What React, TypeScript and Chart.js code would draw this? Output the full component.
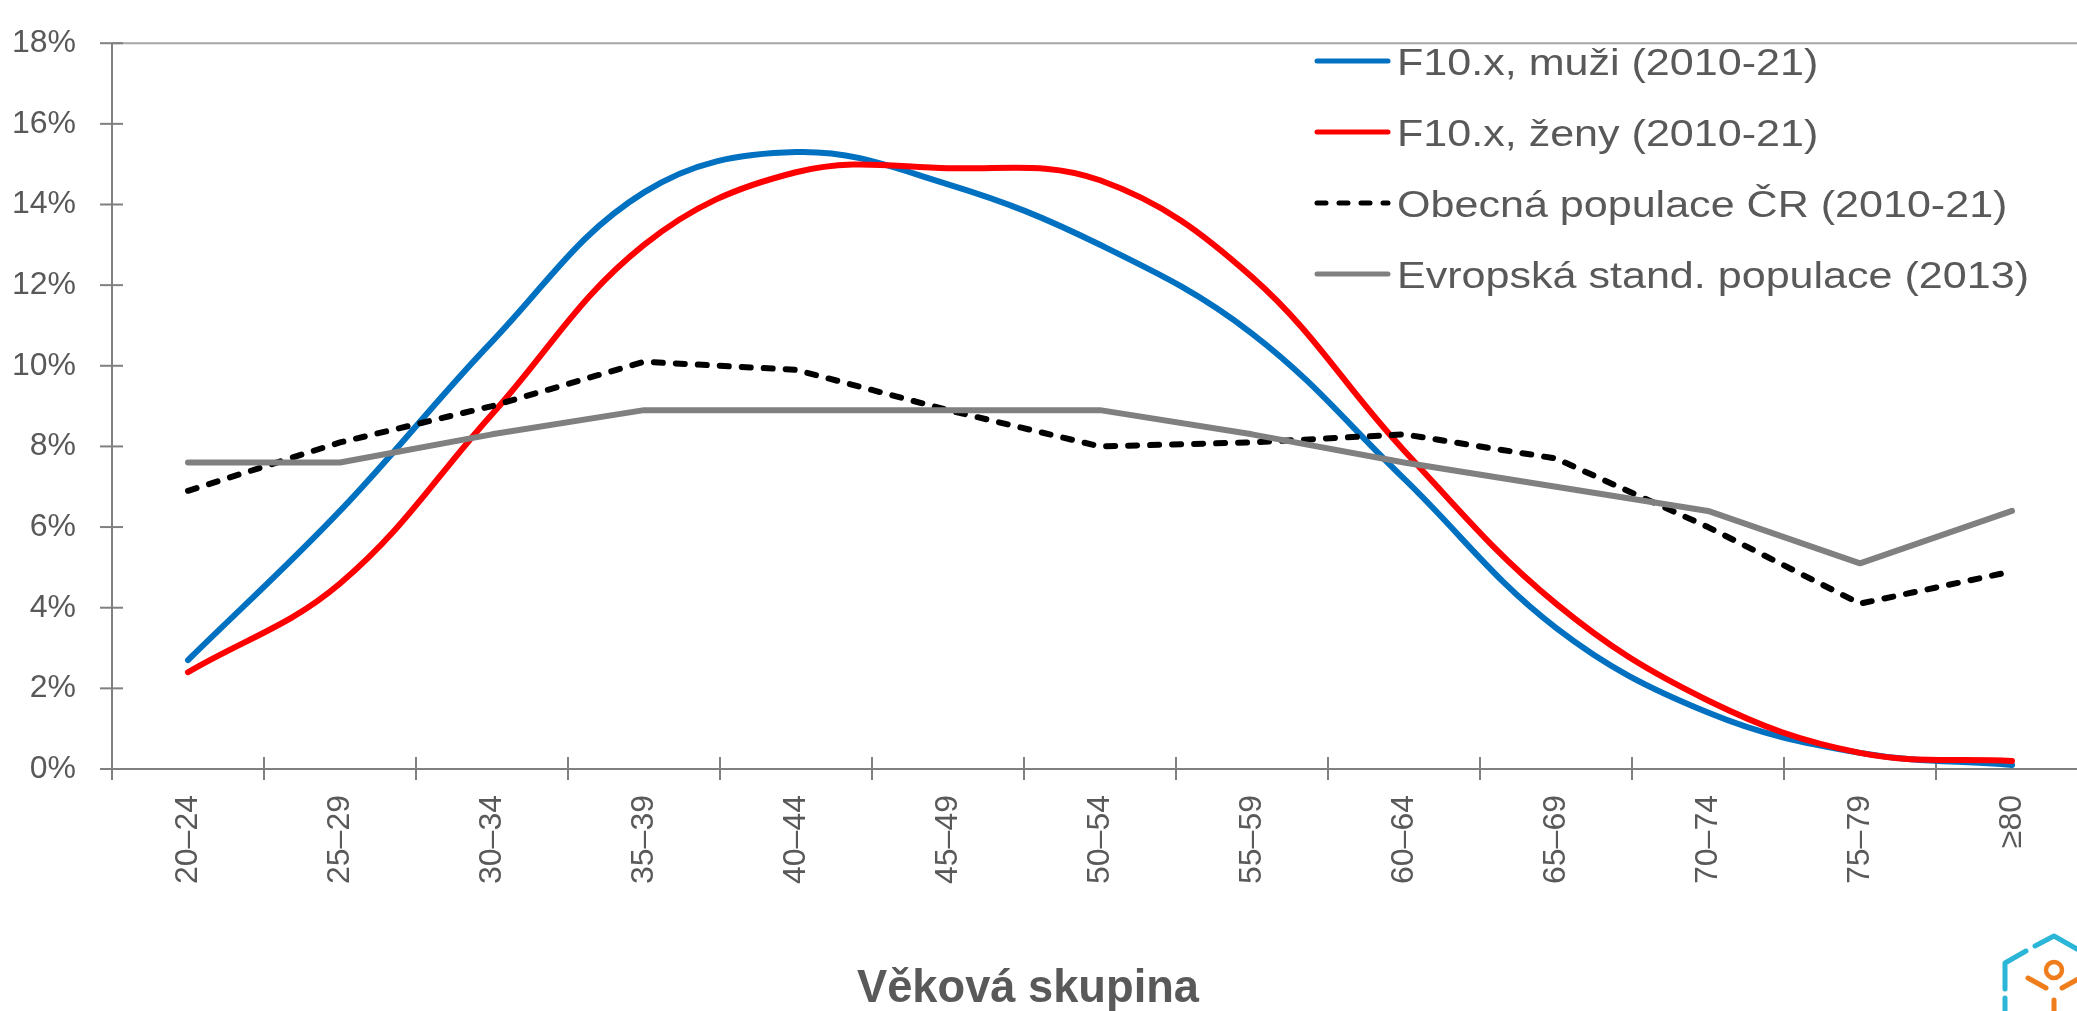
import React, { useEffect, useRef } from "react";
import { Chart, registerables } from "chart.js";

Chart.register(...registerables);

const categories = ["20–24", "25–29", "30–34", "35–39", "40–44", "45–49", "50–54", "55–59", "60–64", "65–69", "70–74", "75–79", "≥80"];
const menValues = [2.7, 6.4, 10.6, 14.3, 15.3, 14.5, 13.0, 10.8, 7.2, 3.5, 1.4, 0.4, 0.1];
const womenValues = [2.4, 4.6, 8.8, 13.0, 14.8, 14.9, 14.6, 12.2, 7.9, 4.1, 1.7, 0.4, 0.2];
const czPopulationValues = [6.9, 8.1, 9.0, 10.1, 9.9, 8.9, 8.0, 8.1, 8.3, 7.7, 6.0, 4.1, 4.9];
const euStandardValues = [7.6, 7.6, 8.3, 8.9, 8.9, 8.9, 8.9, 8.3, 7.6, 7.0, 6.4, 5.1, 6.4];
const seriesLabels = ["F10.x, muži (2010-21)", "F10.x, ženy (2010-21)", "Obecná populace ČR (2010-21)", "Evropská stand. populace (2013)"];
const yMin = 0;
const yMax = 18;
const yStep = 2;
const xTitle = "Věková skupina";

const CANVAS_W = 2100;
const CANVAS_H = 1011;
const TEXT = "#595959";
const AXIS = "#808080";
const LINE_W = 6;

const decorPlugin = {
  id: "decor",
  beforeDatasetsDraw(chart: any) {
    const { ctx, chartArea, scales } = chart;
    const x = scales.x;
    const y = scales.y;
    const top = y.getPixelForValue(yMax);
    const bottom = y.getPixelForValue(yMin);
    ctx.save();
    ctx.lineWidth = 2;
    ctx.strokeStyle = "#a6a6a6";
    ctx.beginPath();
    ctx.moveTo(chartArea.left, top);
    ctx.lineTo(chartArea.right, top);
    ctx.stroke();
    ctx.strokeStyle = AXIS;
    ctx.beginPath();
    ctx.moveTo(chartArea.left, top);
    ctx.lineTo(chartArea.left, bottom + 11);
    ctx.stroke();
    for (let v = yMin; v <= yMax; v += yStep) {
      const py = y.getPixelForValue(v);
      ctx.beginPath();
      ctx.moveTo(chartArea.left - 12, py);
      ctx.lineTo(chartArea.left + 11, py);
      ctx.stroke();
    }
    ctx.beginPath();
    ctx.moveTo(chartArea.left - 12, bottom);
    ctx.lineTo(chartArea.right, bottom);
    ctx.stroke();
    for (let i = 1; i < categories.length; i++) {
      const px = Math.round((x.getPixelForValue(i - 1) + x.getPixelForValue(i)) / 2);
      ctx.beginPath();
      ctx.moveTo(px, bottom - 12);
      ctx.lineTo(px, bottom + 11);
      ctx.stroke();
    }
    ctx.restore();
  },
  afterDraw(chart: any) {
    const { ctx } = chart;
    const datasets = chart.data.datasets;
    ctx.save();
    const lx0 = 1317;
    const lx1 = 1388;
    const tx = 1397;
    const rowY0 = 61;
    const rowStep = 71;
    ctx.font = "37px 'Liberation Sans', Arial, sans-serif";
    const widest = ctx.measureText(seriesLabels[3]).width;
    const sx = 632 / widest;
    datasets.forEach((ds: any, i: number) => {
      const ry = rowY0 + i * rowStep;
      ctx.save();
      ctx.strokeStyle = ds.borderColor;
      ctx.lineWidth = 5;
      ctx.lineCap = "round";
      if (ds.borderDash && ds.borderDash.length) ctx.setLineDash(ds.borderDash);
      ctx.beginPath();
      ctx.moveTo(lx0, ry);
      ctx.lineTo(lx1, ry);
      ctx.stroke();
      ctx.restore();
      ctx.save();
      ctx.fillStyle = TEXT;
      ctx.textBaseline = "alphabetic";
      ctx.textAlign = "left";
      ctx.translate(tx, ry + 14);
      ctx.scale(sx, 1);
      ctx.fillText(ds.label, 0, 0);
      ctx.restore();
    });
    ctx.fillStyle = TEXT;
    ctx.font = "bold 46px 'Liberation Sans', Arial, sans-serif";
    ctx.textAlign = "center";
    ctx.textBaseline = "alphabetic";
    ctx.fillText(xTitle, 1028, 1002, 342);
    ctx.lineCap = "round";
    ctx.lineJoin = "round";
    ctx.lineWidth = 5;
    ctx.strokeStyle = "#2bb5d6";
    ctx.beginPath();
    ctx.moveTo(2005, 989);
    ctx.lineTo(2005, 963);
    ctx.lineTo(2026, 951);
    ctx.stroke();
    ctx.beginPath();
    ctx.moveTo(2035, 946);
    ctx.lineTo(2054, 936);
    ctx.lineTo(2100, 962);
    ctx.stroke();
    ctx.beginPath();
    ctx.moveTo(2005, 998);
    ctx.lineTo(2005, 1020);
    ctx.stroke();
    ctx.strokeStyle = "#f07d1b";
    ctx.lineWidth = 4.5;
    ctx.beginPath();
    ctx.arc(2054, 970, 8, 0, Math.PI * 2);
    ctx.stroke();
    ctx.lineWidth = 5;
    ctx.beginPath();
    ctx.moveTo(2028, 978);
    ctx.lineTo(2046, 988);
    ctx.stroke();
    ctx.beginPath();
    ctx.moveTo(2062, 988);
    ctx.lineTo(2080, 978);
    ctx.stroke();
    ctx.beginPath();
    ctx.moveTo(2054, 1000);
    ctx.lineTo(2054, 1020);
    ctx.stroke();
    ctx.restore();
  },
};

export default function App() {
  const canvasRef = useRef<HTMLCanvasElement | null>(null);

  useEffect(() => {
    const canvas = canvasRef.current;
    if (!canvas) return;
    const common = {
      pointRadius: 0,
      pointHoverRadius: 0,
      borderWidth: LINE_W,
      fill: false,
      borderJoinStyle: "round" as const,
    };
    const chart = new Chart(canvas, {
      type: "line",
      data: {
        labels: categories,
        datasets: [
          { ...common, label: seriesLabels[0], data: menValues, borderColor: "#0070C0", backgroundColor: "#0070C0", tension: 0.38, borderCapStyle: "round", order: 3 },
          { ...common, label: seriesLabels[1], data: womenValues, borderColor: "#FF0000", backgroundColor: "#FF0000", tension: 0.38, borderCapStyle: "round", order: 2 },
          { ...common, label: seriesLabels[2], data: czPopulationValues, borderColor: "#000000", backgroundColor: "#000000", tension: 0, borderDash: [9, 13], borderCapStyle: "round", order: 1 },
          { ...common, label: seriesLabels[3], data: euStandardValues, borderColor: "#808080", backgroundColor: "#808080", tension: 0, borderCapStyle: "round", order: 0 },
        ],
      },
      options: {
        responsive: false,
        animation: false,
        devicePixelRatio: 1,
        layout: { padding: { top: 28, right: CANVAS_W - 2088, left: 0, bottom: 0 }, autoPadding: false },
        plugins: {
          legend: { display: false },
          title: { display: false },
          tooltip: { enabled: false },
        },
        scales: {
          x: {
            type: "category",
            offset: true,
            grid: { display: false, drawTicks: true, tickLength: 11 },
            border: { display: false },
            ticks: {
              autoSkip: false,
              minRotation: 90,
              maxRotation: 90,
              padding: 15,
              color: TEXT,
              font: { family: "'Liberation Sans', Arial, sans-serif", size: 32 },
            },
            afterFit(scale: any) {
              scale.height = CANVAS_H - 769;
            },
          },
          y: {
            min: yMin,
            max: yMax,
            grid: { display: false, drawTicks: true, tickLength: 12 },
            border: { display: false },
            ticks: {
              stepSize: yStep,
              padding: 24,
              color: TEXT,
              font: { family: "'Liberation Sans', Arial, sans-serif", size: 32 },
              callback: (v: any) => `${v}%`,
            },
            afterFit(scale: any) {
              scale.width = 112;
            },
          },
        },
      },
      plugins: [decorPlugin],
    });
    return () => chart.destroy();
  }, []);

  return (
    <div style={{ position: "absolute", left: 0, top: 0, width: 2077, height: CANVAS_H, overflow: "hidden", background: "#fff" }}>
      <canvas ref={canvasRef} width={CANVAS_W} height={CANVAS_H} style={{ width: CANVAS_W, height: CANVAS_H, display: "block" }} />
    </div>
  );
}
